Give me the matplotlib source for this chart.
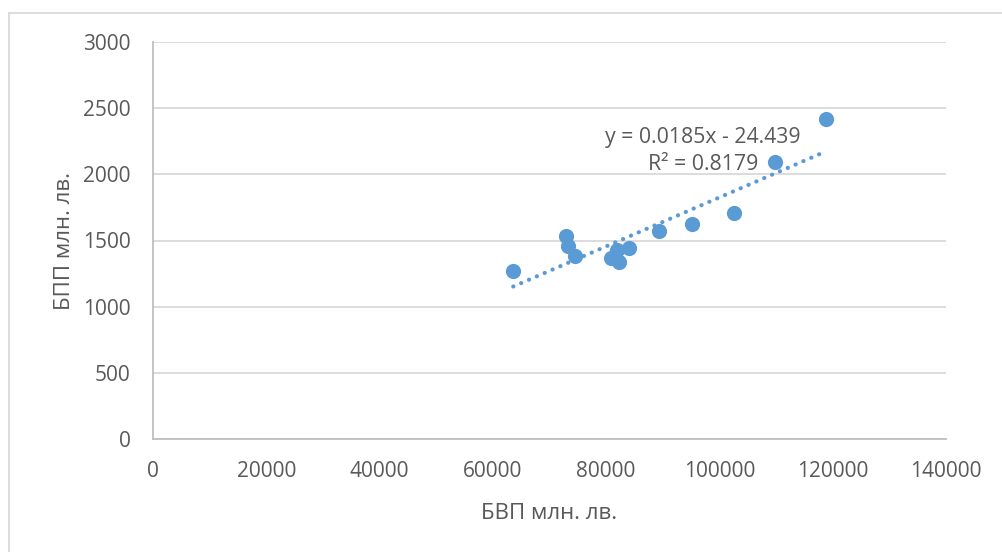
import matplotlib.pyplot as plt
import numpy as np
from matplotlib.lines import Line2D

plt.rcParams['font.family'] = ['Open Sans', 'DejaVu Sans']

# GDP (x) and BPP (y), million BGN
bvp = [63600, 72900, 73200, 74500, 80800, 82000, 82300, 84000, 89400, 95200, 102500, 109800, 118800]
bpp = [1270, 1535, 1460, 1380, 1365, 1430, 1340, 1440, 1575, 1625, 1710, 2090, 2420]

slope = 0.0185
intercept = -24.439
r2 = 0.8179

blue = '#5b9bd5'
grey_txt = '#595959'
grid_c = '#d9d9d9'

fig = plt.figure(figsize=(10.02, 5.52), dpi=100)
ax = fig.add_axes([153 / 1002, 113 / 552, 793 / 1002, 397 / 552])

ax.scatter(bvp, bpp, s=120, color=blue, zorder=3, linewidths=0)

xs = np.array([min(bvp), max(bvp)])
ax.plot(xs, slope * xs + intercept, color=blue, lw=3,
        linestyle=(0, (0.05, 2.0)), dash_capstyle='round', zorder=2)

ax.set_xlim(0, 140000)
ax.set_ylim(0, 3000)
ax.set_xticks(range(0, 140001, 20000))
ax.set_yticks(range(0, 3001, 500))
ax.grid(axis='y', color=grid_c, lw=1.3)
ax.set_axisbelow(True)
for s in ['top', 'right']:
    ax.spines[s].set_visible(False)
for s in ['left', 'bottom']:
    ax.spines[s].set_color('#bfbfbf')
    ax.spines[s].set_linewidth(1.3)
ax.tick_params(length=0, labelsize=15, colors=grey_txt)
ax.tick_params(axis='x', pad=16)
ax.tick_params(axis='y', pad=16)

ax.set_xlabel('БВП млн. лв.', fontsize=16, color=grey_txt, labelpad=15)
ax.set_ylabel('БПП млн. лв.', fontsize=16, color=grey_txt, labelpad=6)

ax.text(0.6935, 0.7254, 'y = 0.0185x - 24.439\nR² = 0.8179', transform=ax.transAxes,
        ha='center', va='center', fontsize=15.3, color=grey_txt, linespacing=1.4)

# outer chart border
fig.add_artist(Line2D([8.5 / 1002, 8.5 / 1002], [0, 1 - 12.5 / 552], color='#d9d9d9', lw=1.3))
fig.add_artist(Line2D([8.5 / 1002, 1], [1 - 12.5 / 552, 1 - 12.5 / 552], color='#d9d9d9', lw=1.3))

fig.savefig('out.png', dpi=100)
